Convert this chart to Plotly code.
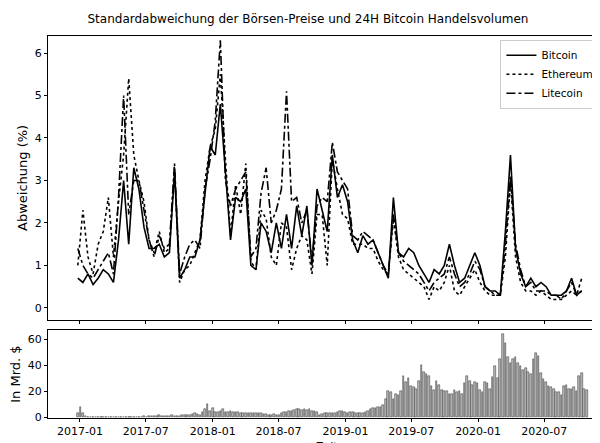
import pandas as pd
import plotly.graph_objects as go
from plotly.subplots import make_subplots

# Zweiwöchentliche Standardabweichung (%)
btc = [.7, .6, .8, .55, .7, .9, .8, .6, 1.6, 3.0, 1.5, 3.3, 2.8, 1.9, 1.4, 1.4, 1.5, 1.2, 1.3, 3.2,
       .7, .9, 1.2, 1.2, 1.6, 2.7, 3.8, 3.6, 4.8, 3.2, 1.6, 2.6, 2.5, 2.8, 1.0, .9, 2.0, 1.8, 1.3, 2.0,
       1.4, 2.2, 1.4, 2.4, 1.7, 2.4, 1.0, 2.8, 2.3, 1.8, 3.6, 2.6, 2.9, 2.5, 1.6, 1.3, 1.7, 1.5, 1.6, 1.3,
       1.0, .7, 2.6, 1.3, 1.2, 1.4, 1.3, 1.0, .8, .6, .9, .8, 1.0, 1.5, 1.0, .6, .7, 1.0, 1.3, 1.0,
       .5, .4, .4, .3, 1.8, 3.6, 1.4, .8, .5, .7, .5, .6, .5, .3, .3, .3, .4, .7, .3, .4]
eth = [1.0, 2.3, 1.2, .8, 1.5, 1.8, 2.6, 1.2, 2.5, 3.6, 5.4, 3.6, 3.0, 2.5, 1.6, 1.3, 1.8, 1.3, 1.4, 3.3,
       .6, .9, 1.0, 1.3, 1.6, 3.0, 3.8, 4.2, 5.5, 3.5, 1.7, 2.9, 2.2, 3.4, 1.1, .9, 2.3, 2.1, 1.2, 1.0,
       2.0, 1.9, .9, 1.4, 1.7, 1.6, .8, 2.2, 2.2, 1.0, 3.5, 2.8, 2.2, 2.1, 1.5, 1.5, 1.5, 1.4, 1.4, 1.1,
       .9, .8, 2.1, 1.2, .9, .8, .7, .6, .5, .2, .5, .4, .6, 1.0, .4, .3, .5, .7, .9, .6,
       .4, .3, .3, .3, 1.2, 3.0, 1.2, .6, .4, .4, .3, .4, .3, .2, .2, .2, .3, .4, .3, .7]
ltc = [1.4, 1.0, .8, .7, .9, 1.1, 1.3, .8, 2.6, 5.0, 2.2, 3.0, 3.0, 2.3, 1.6, 1.2, 1.7, 1.4, 1.5, 3.4,
       .8, 1.2, 1.5, 1.6, 1.4, 2.8, 3.5, 4.4, 6.3, 3.0, 2.4, 2.8, 3.0, 3.2, 1.2, 1.4, 2.7, 3.3, 2.0, 2.3,
       2.8, 5.1, 2.5, 2.6, 2.0, 2.3, 1.1, 2.4, 2.6, 2.5, 3.9, 3.2, 3.0, 2.8, 1.7, 1.6, 1.8, 1.7, 1.6, 1.3,
       1.0, .8, 2.2, 1.3, 1.1, 1.0, .9, .8, .6, .4, .6, .7, .8, 1.2, .8, .5, .6, .8, 1.1, .9,
       .5, .4, .3, .3, 1.5, 3.1, 1.5, .9, .5, .6, .4, .4, .4, .3, .3, .2, .4, .6, .3, .4]
dates = pd.date_range("2016-12-26", periods=len(btc), freq="14D")

# Wöchentliches 24H-Handelsvolumen Bitcoin (Mrd. $)
vol = [3, 8, 3, 1, 0.5,
       0.2, 0.2, 0.3, 0.5, 0.3, 0.5, 0.3, 0.2, 0.2,
       0.3, 0.3, 0.3, 0.3, 0.3, 0.3, 0.4, 0.4, 0.4,
       0.5, 0.5, 0.5, 0.6, 0.5, 0.6, 0.7, 0.8, 1.0,
       1.5, 1.2, 1.0, 1.3, 1.0, 1.5, 1.2, 1.0, 1.2,
       1.5, 1.5, 2, 2, 2.5, 3, 2.5, 2, 4,
       6, 10, 5, 7,
       4, 4, 5, 6, 4, 4, 5, 4, 4,
       4, 3.5, 3.5, 3, 3, 3, 3.5, 3, 3,
       3, 2.5, 2.5, 2, 2, 2.5, 2, 2, 3,
       4, 4, 4.5, 5, 5.5, 6, 6, 5.5, 6,
       5.5, 6, 5, 5, 4, 2, 2.5, 3, 3,
       3, 3, 3.5, 4, 4.5, 4.5, 4, 3.5, 4,
       4, 3, 3.5, 3, 3.5, 4, 5, 6, 7,
       7, 8, 8, 9, 14, 20, 19, 14, 18,
       17, 20, 32, 27, 30, 24, 23, 22, 28,
       40, 35, 33, 32, 24, 21, 28, 25, 21,
       20, 20, 18, 18, 21, 19, 20, 18, 26,
       32, 28, 25, 27, 26, 21, 19, 27, 26,
       22, 31, 39, 30, 45, 64, 57, 46, 42,
       45, 46, 42, 39, 36, 38, 35, 33, 45,
       49, 47, 34, 29, 27, 24, 23, 22, 19,
       19, 17, 24, 25, 22, 22, 23, 20, 32,
       34, 22, 21]
vol_dates = pd.date_range("2016-12-26", periods=len(vol), freq="7D")

fig = make_subplots(rows=2, cols=1, shared_xaxes=True)
fig.add_trace(go.Scatter(x=dates, y=btc, name="Bitcoin", mode="lines",
                         line=dict(color="black", width=1.6)), row=1, col=1)
fig.add_trace(go.Scatter(x=dates, y=eth, name="Ethereum", mode="lines",
                         line=dict(color="black", width=1.6, dash="dot")), row=1, col=1)
fig.add_trace(go.Scatter(x=dates, y=ltc, name="Litecoin", mode="lines",
                         line=dict(color="black", width=1.6, dash="dashdot")), row=1, col=1)
fig.add_trace(go.Bar(x=vol_dates, y=vol, showlegend=False, width=4.5 * 86400000,
                     marker=dict(color="#bdbdbd", line=dict(color="#444", width=0.6))), row=2, col=1)

axis = dict(showline=True, linecolor="black", mirror=True, ticks="outside", automargin=False,
            showgrid=False, zeroline=False, tickcolor="black", ticklen=3)
xr = ["2016-10-05", "2020-12-15"]
fig.update_xaxes(axis, range=xr, tickformat="%Y-%m", dtick="M6", tick0="2017-01-01")
fig.update_xaxes(showticklabels=False, row=1, col=1)
fig.update_yaxes(axis)
fig.update_yaxes(domain=[0.257, 1], range=[-0.28, 6.4], dtick=1,
                 title_text="Abweichung (%)", title_standoff=4, row=1, col=1)
fig.update_yaxes(domain=[0, 0.23], range=[-0.5, 67], tickvals=[0, 20, 40, 60],
                 title_text="In Mrd. $", title_standoff=4, row=2, col=1)

fig.add_annotation(text="Zeit", xref="paper", yref="paper", x=0.5, y=-0.075,
                   yanchor="middle", showarrow=False, font=dict(size=11))

fig.update_layout(
    width=600, height=443,
    margin=dict(l=40, r=3, t=28, b=33),
    plot_bgcolor="white", paper_bgcolor="white",
    font=dict(family="DejaVu Sans", size=11, color="black"),
    title=dict(text="Standardabweichung der Börsen-Preise und 24H Bitcoin Handelsvolumen",
               x=0.5, y=0.985, xanchor="center", font=dict(size=12)),
    legend=dict(x=0.99, y=0.99, xanchor="right", yanchor="top", itemwidth=30,
                bordercolor="#ccc", borderwidth=1, bgcolor="white", font=dict(size=10.5)),
    bargap=0,
)

fig.write_html("out.html")
